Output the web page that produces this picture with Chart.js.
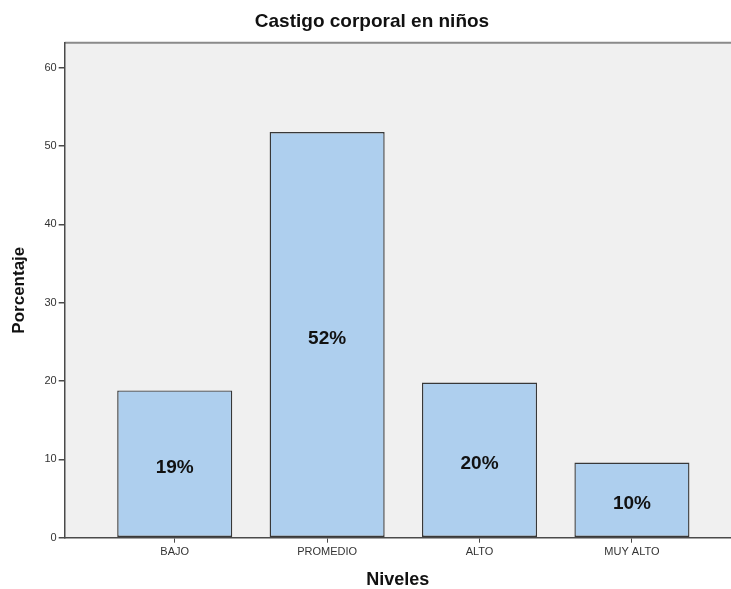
<!DOCTYPE html>
<html>
<head>
<meta charset="utf-8">
<script src="https://cdn.jsdelivr.net/npm/chart.js@4/dist/chart.umd.min.js"></script>
<style>
  html, body { margin: 0; padding: 0; background: #fff; }
  #wrap { width: 731px; height: 589px; position: relative; }
</style>
</head>
<body>
<div id="wrap"><canvas id="chart"></canvas></div>
<script>
// data
const categories = ['BAJO', 'PROMEDIO', 'ALTO', 'MUY ALTO'];
const percentages = [18.8, 51.8, 19.8, 9.6];
const barLabels = ['19%', '52%', '20%', '10%'];
const yTicks = [0, 10, 20, 30, 40, 50, 60];
const chartTitle = 'Castigo corporal en niños';

const axisColor = '#4a4a4a';
const fontFamily = 'Arial, "Liberation Sans", sans-serif';

// grey plot background, top frame line and the title
const plotFrame = {
    id: 'plotFrame',
    beforeDraw(chart) {
        const { ctx, chartArea: a } = chart;
        ctx.save();
        ctx.fillStyle = '#f0f0f0';
        ctx.fillRect(a.left, a.top, a.right - a.left, a.bottom - a.top);
        ctx.strokeStyle = '#8a8a8a';
        ctx.lineWidth = 2;
        ctx.beginPath();
        ctx.moveTo(a.left, a.top);
        ctx.lineTo(a.right, a.top);
        ctx.stroke();

        ctx.font = 'bold 19px ' + fontFamily;
        ctx.fillStyle = '#111111';
        ctx.textAlign = 'center';
        ctx.textBaseline = 'middle';
        ctx.fillText(chartTitle, 372, 22);
        ctx.restore();
    }
};

// percentage labels inside the bars
const barText = {
    id: 'barText',
    afterDatasetsDraw(chart) {
        const { ctx } = chart;
        const meta = chart.getDatasetMeta(0);
        ctx.save();
        ctx.font = 'bold 19px ' + fontFamily;
        ctx.fillStyle = '#111111';
        ctx.textAlign = 'center';
        ctx.textBaseline = 'middle';
        meta.data.forEach((bar, i) => {
            ctx.fillText(barLabels[i], bar.x, (bar.y + bar.base) / 2 + 4);
        });
        ctx.restore();
    }
};

new Chart(document.getElementById('chart'), {
    type: 'bar',
    data: {
        datasets: [{
            data: percentages.map((v, i) => ({ x: i, y: v })),
            backgroundColor: '#aecfee',
            borderColor: '#383838',
            borderWidth: 1.4,
            borderSkipped: false,
            barPercentage: 0.755,
            categoryPercentage: 1
        }]
    },
    options: {
        responsive: true,
        maintainAspectRatio: false,
        animation: false,
        layout: { padding: { top: 42.7 } },
        plugins: {
            legend: { display: false },
            tooltip: { enabled: false },
            title: { display: false }
        },
        scales: {
            x: {
                type: 'linear',
                min: -0.722,
                max: 3.65,
                offset: false,
                afterBuildTicks(scale) {
                    scale.ticks = categories.map((c, i) => ({ value: i }));
                },
                afterFit(scale) { scale.height = 51.3; },
                ticks: {
                    autoSkip: false,
                    maxRotation: 0,
                    padding: 3,
                    color: '#333333',
                    font: { family: fontFamily, size: 11 },
                    callback: v => categories[v]
                },
                grid: { offset: false, drawOnChartArea: false, tickLength: 5, color: axisColor, lineWidth: 1 },
                border: { color: axisColor, width: 1.5 },
                title: {
                    display: true,
                    text: 'Niveles',
                    color: '#111111',
                    font: { family: fontFamily, size: 18, weight: 'bold', lineHeight: 1 },
                    padding: { top: 0, bottom: 0 }
                }
            },
            y: {
                min: 0,
                max: 63.2,
                afterBuildTicks(scale) {
                    scale.ticks = yTicks.map(v => ({ value: v }));
                },
                afterFit(scale) { scale.width = 64.7; },
                ticks: {
                    padding: 2,
                    color: '#333333',
                    font: { family: fontFamily, size: 11 }
                },
                grid: { drawOnChartArea: false, tickLength: 6, color: axisColor, lineWidth: 1.5 },
                border: { color: axisColor, width: 1.5 },
                title: {
                    display: true,
                    text: 'Porcentaje',
                    color: '#111111',
                    font: { family: fontFamily, size: 17, weight: 'bold', lineHeight: 1 },
                    padding: { top: 11, bottom: 0 }
                }
            }
        }
    },
    plugins: [plotFrame, barText]
});
</script>
</body>
</html>
